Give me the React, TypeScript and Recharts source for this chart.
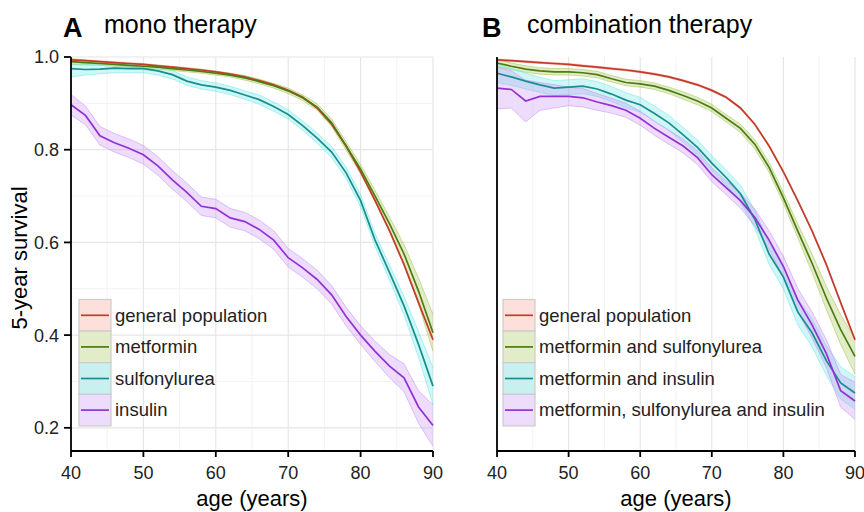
import { ComposedChart, Line, Area, XAxis, YAxis, CartesianGrid } from 'recharts';

// age grid (2-year steps) shared by every curve
const ages = [40, 42, 44, 46, 48, 50, 52, 54, 56, 58, 60, 62, 64, 66, 68, 70, 72, 74, 76, 78, 80, 82, 84, 86, 88, 90];

// panel A - mono therapy
const generalPop = [0.994, 0.992, 0.99, 0.988, 0.986, 0.984, 0.981, 0.978, 0.975, 0.972, 0.968, 0.963, 0.957, 0.949, 0.94, 0.928, 0.913, 0.89, 0.855, 0.808, 0.752, 0.69, 0.625, 0.552, 0.47, 0.39];
const generalPopCi = [0.002, 0.002, 0.002, 0.002, 0.002, 0.002, 0.002, 0.002, 0.002, 0.002, 0.002, 0.002, 0.002, 0.002, 0.002, 0.002, 0.002, 0.002, 0.002, 0.002, 0.002, 0.002, 0.002, 0.002, 0.002, 0.002];
const metformin = [0.99, 0.988, 0.986, 0.984, 0.982, 0.98, 0.978, 0.975, 0.972, 0.969, 0.965, 0.961, 0.955, 0.947, 0.938, 0.927, 0.912, 0.892, 0.858, 0.808, 0.758, 0.7, 0.64, 0.575, 0.495, 0.405];
const metforminCi = [0.006, 0.005, 0.004, 0.004, 0.004, 0.004, 0.004, 0.004, 0.004, 0.004, 0.004, 0.004, 0.005, 0.005, 0.005, 0.006, 0.006, 0.007, 0.008, 0.009, 0.01, 0.012, 0.015, 0.02, 0.028, 0.04];
const sulfonylurea = [0.975, 0.973, 0.974, 0.976, 0.975, 0.975, 0.97, 0.962, 0.948, 0.94, 0.935, 0.928, 0.918, 0.908, 0.893, 0.876, 0.852, 0.825, 0.795, 0.75, 0.69, 0.605, 0.535, 0.463, 0.38, 0.29];
const sulfonylureaCi = [0.018, 0.012, 0.01, 0.01, 0.009, 0.009, 0.009, 0.009, 0.009, 0.009, 0.009, 0.009, 0.009, 0.01, 0.01, 0.01, 0.01, 0.011, 0.012, 0.012, 0.013, 0.014, 0.016, 0.02, 0.028, 0.04];
const insulin = [0.897, 0.874, 0.83, 0.815, 0.803, 0.789, 0.765, 0.735, 0.708, 0.678, 0.673, 0.653, 0.645, 0.628, 0.605, 0.567, 0.545, 0.52, 0.487, 0.44, 0.4, 0.365, 0.333, 0.308, 0.245, 0.205];
const insulinCi = [0.022, 0.02, 0.02, 0.02, 0.02, 0.02, 0.02, 0.02, 0.02, 0.02, 0.02, 0.02, 0.02, 0.02, 0.02, 0.02, 0.02, 0.02, 0.02, 0.02, 0.02, 0.022, 0.025, 0.03, 0.035, 0.045];

// panel B - combination therapy
const metSu = [0.987, 0.98, 0.974, 0.97, 0.968, 0.968, 0.966, 0.962, 0.953, 0.945, 0.942, 0.937, 0.928, 0.917, 0.905, 0.89, 0.868, 0.846, 0.812, 0.762, 0.696, 0.625, 0.555, 0.48, 0.412, 0.354];
const metSuCi = [0.008, 0.007, 0.007, 0.007, 0.007, 0.007, 0.007, 0.007, 0.007, 0.007, 0.007, 0.007, 0.007, 0.008, 0.008, 0.008, 0.008, 0.009, 0.01, 0.011, 0.012, 0.015, 0.02, 0.025, 0.032, 0.038];
const metIns = [0.965, 0.957, 0.948, 0.94, 0.933, 0.935, 0.937, 0.931, 0.92, 0.907, 0.897, 0.878, 0.858, 0.832, 0.805, 0.771, 0.74, 0.705, 0.65, 0.575, 0.525, 0.45, 0.405, 0.345, 0.297, 0.275];
const metInsCi = [0.02, 0.018, 0.017, 0.016, 0.016, 0.016, 0.016, 0.016, 0.016, 0.016, 0.016, 0.016, 0.016, 0.016, 0.016, 0.016, 0.017, 0.018, 0.02, 0.022, 0.025, 0.028, 0.03, 0.032, 0.035, 0.035];
const metSuIns = [0.933, 0.93, 0.905, 0.915, 0.915, 0.915, 0.912, 0.903, 0.895, 0.885, 0.868, 0.846, 0.827, 0.808, 0.783, 0.746, 0.718, 0.69, 0.654, 0.605, 0.548, 0.476, 0.422, 0.36, 0.28, 0.258];
const metSuInsCi = [0.045, 0.04, 0.045, 0.03, 0.025, 0.02, 0.02, 0.018, 0.016, 0.015, 0.015, 0.015, 0.015, 0.015, 0.015, 0.015, 0.015, 0.016, 0.018, 0.02, 0.022, 0.025, 0.028, 0.03, 0.035, 0.04];

const xTicks = [40, 50, 60, 70, 80, 90];
const xMinor = [45, 55, 65, 75, 85];
const yTicks = [0.2, 0.4, 0.6, 0.8, 1.0];
const yMinor = [0.3, 0.5, 0.7, 0.9];

const lineColors = ['#c43b2b', '#4b7d10', '#178f8f', '#9430d6'];
const bandColors = ['#f8988a', '#a1c048', '#64e6e6', '#c38af2'];
const keyColors = ['#fde0dc', '#e3ecc8', '#c9f0f0', '#eddcfb'];

const monoNames = ['general population', 'metformin', 'sulfonylurea', 'insulin'];
const comboNames = ['general population', 'metformin and sulfonylurea', 'metformin and insulin', 'metformin, sulfonylurea and insulin'];

type Series = { values: number[]; ci: number[] };

const monoSeries: Series[] = [
  { values: generalPop, ci: generalPopCi },
  { values: metformin, ci: metforminCi },
  { values: sulfonylurea, ci: sulfonylureaCi },
  { values: insulin, ci: insulinCi },
];
const comboSeries: Series[] = [
  { values: generalPop, ci: generalPopCi },
  { values: metSu, ci: metSuCi },
  { values: metIns, ci: metInsCi },
  { values: metSuIns, ci: metSuInsCi },
];

const buildRows = (series: Series[]) =>
  ages.map((age, i) => {
    const row: Record<string, any> = { age };
    series.forEach((s, k) => {
      row['s' + k] = s.values[i];
      row['b' + k] = [s.values[i] - s.ci[i], s.values[i] + s.ci[i]];
    });
    return row;
  });

const font = 'Liberation Sans, Arial, Helvetica, sans-serif';
const axisStyle = { stroke: '#000', strokeWidth: 1.8 };

type PanelProps = {
  series: Series[];
  left: number;
  width: number;
  margin: { top: number; right: number; bottom: number; left: number };
  yWidth: number;
  showYLabels: boolean;
};

const Panel = (props: PanelProps) => {
  const rows = buildRows(props.series);
  return (
    <div style={{ position: 'absolute', left: props.left, top: 0 }}>
      <ComposedChart width={props.width} height={512} data={rows} margin={props.margin}>
        <CartesianGrid stroke='#f3f3f3' strokeWidth={1} horizontalValues={yMinor} verticalValues={xMinor} />
        <CartesianGrid stroke='#e6e6e6' strokeWidth={1.2} horizontalValues={yTicks} verticalValues={xTicks} />
        <XAxis
          dataKey='age'
          type='number'
          domain={[40, 90]}
          ticks={xTicks}
          height={30}
          tickSize={6}
          tickMargin={9}
          axisLine={axisStyle}
          tickLine={axisStyle}
          tick={{ fontSize: 18, fill: '#222', fontFamily: font }}
        />
        <YAxis
          type='number'
          domain={[0.15, 1.0]}
          ticks={yTicks}
          width={props.yWidth}
          tickSize={7}
          tickMargin={5}
          axisLine={axisStyle}
          tickLine={axisStyle}
          tick={props.showYLabels ? { fontSize: 18, fill: '#222', fontFamily: font } : false}
          tickFormatter={(v: number) => v.toFixed(1)}
          allowDataOverflow
        />
        {props.series.map((_, k) => (
          <Area
            key={'b' + k}
            type='linear'
            dataKey={'b' + k}
            fill={bandColors[k]}
            fillOpacity={0.3}
            stroke={bandColors[k]}
            strokeOpacity={0.5}
            strokeWidth={1}
            isAnimationActive={false}
            dot={false}
            activeDot={false}
          />
        ))}
        {props.series.map((_, k) => (
          <Line
            key={'s' + k}
            type='linear'
            dataKey={'s' + k}
            stroke={lineColors[k]}
            strokeWidth={1.7}
            dot={false}
            activeDot={false}
            isAnimationActive={false}
          />
        ))}
      </ComposedChart>
    </div>
  );
};

const LegendKeys = (props: { x: number; names: string[] }) => (
  <g>
    {props.names.map((name, k) => {
      const y = 299.5 + k * 31.6;
      return (
        <g key={name}>
          <rect x={props.x} y={y} width={32} height={31.6} fill={keyColors[k]} stroke='#cbcbcb' strokeWidth={1.2} />
          <line x1={props.x + 2} x2={props.x + 30} y1={y + 15.8} y2={y + 15.8} stroke={lineColors[k]} strokeWidth={1.7} />
          <text x={props.x + 36} y={y + 22} fontSize={18.5} fill='#222'>{name}</text>
        </g>
      );
    })}
  </g>
);

export default function App() {
  return (
    <div style={{ position: 'absolute', left: 0, top: 0, width: 864, height: 512, background: '#fff', fontFamily: font }}>
      <Panel series={monoSeries} left={0} width={450} margin={{ top: 57, right: 17, bottom: 31, left: 31 }} yWidth={40} showYLabels />
      <Panel series={comboSeries} left={440} width={424} margin={{ top: 57, right: 9, bottom: 31, left: 37 }} yWidth={20} showYLabels={false} />
      <svg width={864} height={512} style={{ position: 'absolute', left: 0, top: 0, pointerEvents: 'none', fontFamily: font }}>
        <text x={63} y={37} fontSize={27} fontWeight='bold' fill='#000'>A</text>
        <text x={104} y={33} fontSize={25} fill='#000'>mono therapy</text>
        <text x={482} y={37} fontSize={27} fontWeight='bold' fill='#000'>B</text>
        <text x={527} y={33} fontSize={25} fill='#000'>combination therapy</text>
        <text x={252} y={506} fontSize={22} textAnchor='middle' fill='#000'>age (years)</text>
        <text x={676} y={506} fontSize={22} textAnchor='middle' fill='#000'>age (years)</text>
        <text x={27} y={258} fontSize={22} textAnchor='middle' fill='#000' transform='rotate(-90 27 258)'>5-year survival</text>
        <LegendKeys x={79} names={monoNames} />
        <LegendKeys x={503} names={comboNames} />
      </svg>
    </div>
  );
}
